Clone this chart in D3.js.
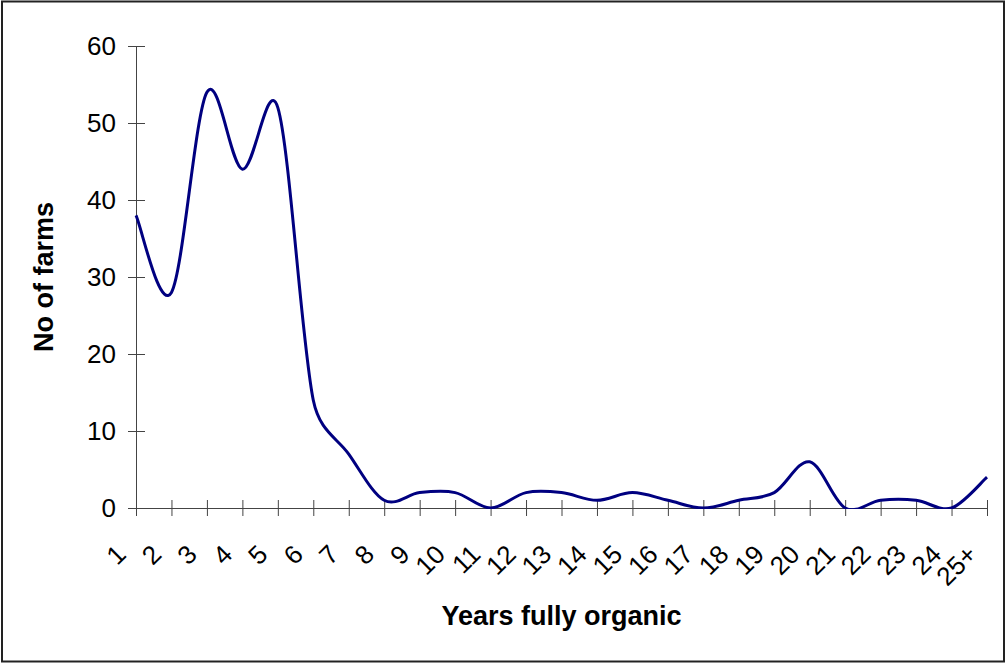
<!DOCTYPE html>
<html>
<head>
  <meta charset="utf-8">
  <script src="https://d3js.org/d3.v7.min.js"></script>
  <style>
    body { margin: 0; background: #fff; }
    text { font-family: "Liberation Sans", Arial, sans-serif; fill: #000; }
  </style>
</head>
<body>
  <svg id="chart" width="1008" height="664"></svg>

  <script>
    // Categories (years fully organic) and number of farms
    const years = ["1", "2", "3", "4", "5", "6", "7", "8", "9", "10", "11", "12", "13",
                   "14", "15", "16", "17", "18", "19", "20", "21", "22", "23", "24", "25+"];
    const farms = [38, 28, 54, 44, 52, 14, 7, 1, 2, 2, 0, 2, 2,
                   1, 2, 1, 0, 1, 2, 6, 0, 1, 1, 0, 4];
    const yTicks = [0, 10, 20, 30, 40, 50, 60];

    const svg = d3.select("#chart");

    // outer frame
    svg.append("rect")
      .attr("x", 2).attr("y", 1.5)
      .attr("width", 1002).attr("height", 660)
      .attr("fill", "none")
      .attr("stroke", "#222")
      .attr("stroke-width", 2);

    const plotL = 136, plotR = 987, plotT = 46, plotB = 508;

    const x = d3.scalePoint().domain(years).range([plotL, plotR]);
    const y = d3.scaleLinear().domain([0, 60]).range([plotB, plotT]);

    svg.append("clipPath").attr("id", "plotClip")
      .append("rect")
      .attr("x", plotL - 2).attr("y", 0)
      .attr("width", plotR - plotL + 4).attr("height", plotB + 1);

    // y axis, ticks crossing the line
    svg.append("g")
      .attr("transform", `translate(${plotL},0)`)
      .call(d3.axisLeft(y).tickValues(yTicks).tickSize(8).tickPadding(12))
      .call(g => g.select(".domain").attr("stroke", "#444").attr("d", `M0.5,${plotT}V${plotB}`))
      .call(g => g.selectAll(".tick line").attr("x1", 9).attr("stroke", "#444"))
      .call(g => g.selectAll(".tick text").style("font-size", "26px"));

    // x axis
    svg.append("g")
      .attr("transform", `translate(0,${plotB})`)
      .call(d3.axisBottom(x).tickSize(8).tickPadding(0))
      .call(g => g.select(".domain").attr("stroke", "#444").attr("d", `M${plotL},0.5H${plotR}`))
      .call(g => g.selectAll(".tick line").attr("y1", -8).attr("stroke", "#444"))
      .call(g => g.selectAll(".tick text")
        .style("font-size", "26px")
        .attr("text-anchor", "end")
        .attr("dy", null)
        .attr("y", null)
        .attr("transform", "translate(-9,48) rotate(-45)"));

    // Excel-style smoothed line (bezier, tension 1/6, capped at half segment)
    function smoothPath(pts) {
      const p = d3.path();
      const dist = (a, b) => Math.hypot(b[0] - a[0], b[1] - a[1]);
      p.moveTo(pts[0][0], pts[0][1]);
      for (let i = 0; i < pts.length - 1; i++) {
        const p0 = pts[Math.max(i - 1, 0)], p1 = pts[i], p2 = pts[i + 1],
              p3 = pts[Math.min(i + 2, pts.length - 1)];
        const d12 = dist(p1, p2), d02 = dist(p0, p2), d13 = dist(p1, p3);
        let f1 = 1 / 6, f2 = 1 / 6;
        if (d02 / 6 >= d12 / 2 && d02 > 0) f1 = d12 / (2 * d02);
        if (d13 / 6 >= d12 / 2 && d13 > 0) f2 = d12 / (2 * d13);
        p.bezierCurveTo(
          p1[0] + f1 * (p2[0] - p0[0]), p1[1] + f1 * (p2[1] - p0[1]),
          p2[0] - f2 * (p3[0] - p1[0]), p2[1] - f2 * (p3[1] - p1[1]),
          p2[0], p2[1]);
      }
      return p.toString();
    }

    const pts = farms.map((v, i) => [x(years[i]), y(v)]);

    svg.append("path")
      .attr("d", smoothPath(pts))
      .attr("clip-path", "url(#plotClip)")
      .attr("fill", "none")
      .attr("stroke", "#000080")
      .attr("stroke-width", 3);

    // axis titles
    svg.append("text")
      .attr("x", (plotL + plotR) / 2)
      .attr("y", 625)
      .attr("text-anchor", "middle")
      .style("font-size", "27px")
      .style("font-weight", "bold")
      .text("Years fully organic");

    svg.append("text")
      .attr("transform", `translate(53,${(plotT + plotB) / 2}) rotate(-90)`)
      .attr("text-anchor", "middle")
      .style("font-size", "27px")
      .style("font-weight", "bold")
      .text("No of farms");
  </script>
</body>
</html>
